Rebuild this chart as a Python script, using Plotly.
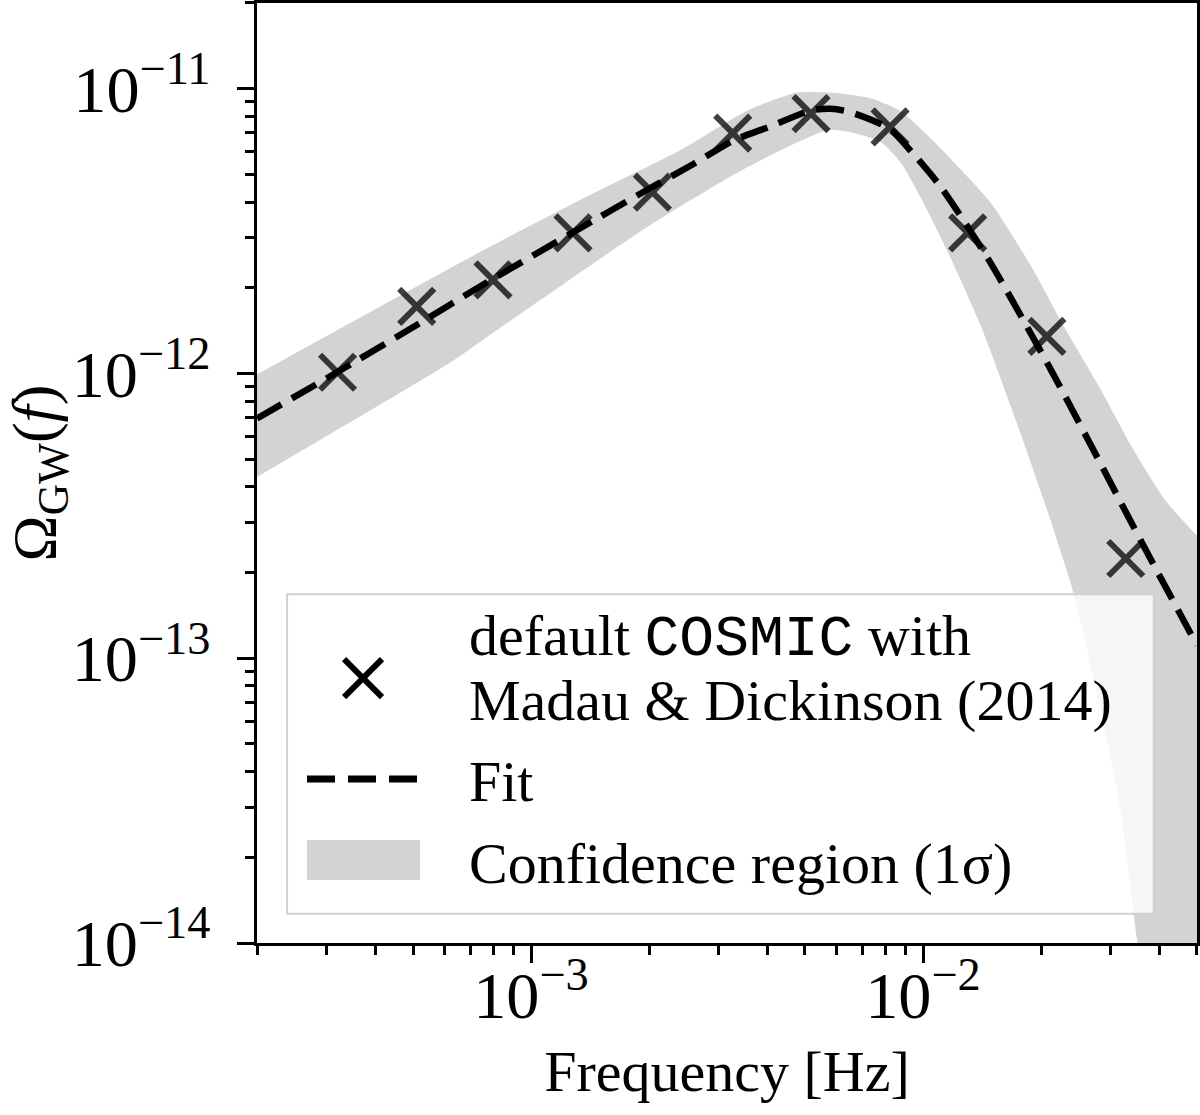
import plotly.graph_objects as go

# Simulated background (COSMIC + Madau & Dickinson 2014)
sim_freq = [3.21e-4, 5.11e-4, 8.0e-4, 1.28e-3, 2.04e-3, 3.27e-3, 5.18e-3, 8.24e-3, 1.30e-2, 2.07e-2, 3.29e-2]
sim_omega = [1.01e-12, 1.72e-12, 2.13e-12, 3.12e-12, 4.33e-12, 6.98e-12, 8.17e-12, 7.34e-12, 3.12e-12, 1.35e-12, 2.24e-13]

# Fit curve
fit_freq = [2.0e-4, 3.2e-4, 5.11e-4, 7.41e-4, 1.28e-3, 2.01e-3, 2.59e-3, 3.29e-3, 4.02e-3, 5.18e-3, 5.8e-3,
            6.43e-3, 8.18e-3, 9.42e-3, 1.11e-2, 1.47e-2, 2.12e-2, 2.69e-2, 3.61e-2, 5.0e-2]
fit_omega = [6.95e-13, 1.01e-12, 1.48e-12, 2.02e-12, 3.13e-12, 4.47e-12, 5.43e-12, 6.59e-12, 7.32e-12, 8.39e-12, 8.5e-12,
             8.32e-12, 7.26e-12, 5.93e-12, 4.52e-12, 2.51e-12, 1.03e-12, 5.55e-13, 2.56e-13, 1.11e-13]

# 1 sigma confidence region, upper and lower edges
band_up_freq = [2.0e-4, 7.41e-4, 1.33e-3, 2.40e-3, 3.57e-3, 4.79e-3, 6.17e-3, 7.36e-3, 8.79e-3, 1.05e-2,
                1.49e-2, 1.89e-2, 2.29e-2, 2.81e-2, 3.40e-2, 4.13e-2, 5.0e-2]
band_up = [9.93e-13, 2.67e-12, 4.06e-12, 6.08e-12, 8.39e-12, 9.70e-12, 9.63e-12, 9.25e-12, 8.32e-12, 6.66e-12,
           3.97e-12, 2.37e-12, 1.46e-12, 9.02e-13, 5.56e-13, 3.62e-13, 2.69e-13]
band_low_freq = [2.0e-4, 6.21e-4, 7.41e-4, 1.98e-3, 3.57e-3, 5.71e-3, 6.55e-3, 7.81e-3, 8.79e-3, 9.88e-3, 1.16e-2,
                 1.41e-2, 1.71e-2, 2.04e-2, 2.39e-2, 2.81e-2, 3.16e-2, 3.51e-2, 4.0e-2, 5.0e-2]
band_low = [4.33e-13, 1.09e-12, 1.29e-12, 3.27e-12, 5.31e-12, 7.14e-12, 7.03e-12, 6.48e-12, 5.48e-12, 4.13e-12, 2.65e-12,
            1.45e-12, 7.08e-13, 3.54e-13, 1.80e-13, 7.07e-14, 3.16e-14, 1.04e-14, 2.1e-15, 6.0e-17]

legend_labels = ["default <span style='font-family:Liberation Mono'>COSMIC</span> with",
                 "Madau & Dickinson (2014)",
                 "Fit",
                 "Confidence region (1σ)"]

FONT = "Liberation Serif"
FS = 58
TICK_FS = 53

fig = go.Figure()

# confidence band
fig.add_trace(go.Scatter(x=band_low_freq, y=band_low, mode="lines",
                         line=dict(width=0, shape="spline", smoothing=0.6, color="#d3d3d3"),
                         showlegend=False, hoverinfo="skip"))
fig.add_trace(go.Scatter(x=band_up_freq, y=band_up, mode="lines", fill="tonexty", fillcolor="#d3d3d3",
                         line=dict(width=0, shape="spline", smoothing=0.6, color="#d3d3d3"),
                         showlegend=False, hoverinfo="skip"))

# fit
fig.add_trace(go.Scatter(x=fit_freq, y=fit_omega, mode="lines",
                         line=dict(color="black", width=6.5, dash="28px,12px", shape="spline", smoothing=0.7),
                         showlegend=False))

# simulation points
fig.add_trace(go.Scatter(x=sim_freq, y=sim_omega, mode="markers",
                         marker=dict(symbol="x-thin", size=35, line=dict(width=6, color="rgba(0,0,0,0.75)")),
                         showlegend=False))

axis_style = dict(type="log", dtick=1, exponentformat="power", showexponent="all",
                  showline=True, linecolor="black", linewidth=3, mirror=True,
                  ticks="outside", ticklen=17, tickwidth=3, tickcolor="black",
                  minor=dict(ticks="outside", ticklen=9, tickwidth=2.5, tickcolor="black", dtick="D1"),
                  showgrid=False, zeroline=False, automargin=False,
                  tickfont=dict(family=FONT, size=TICK_FS, color="black"))

fig.update_xaxes(range=[-3.699, -1.301], ticklabelstandoff=-22,
                 title=dict(text="Frequency [Hz]", font=dict(family=FONT, size=FS, color="black"), standoff=20),
                 **axis_style)
fig.update_yaxes(range=[-14, -10.699], ticklabelstandoff=16,
                 title=dict(text="Ω<sub>GW</sub>(<i>f</i>)", font=dict(family=FONT, size=62, color="black"), standoff=33),
                 **axis_style)

# legend drawn by hand so the symbols keep the reference size
shapes = [
    dict(type="rect", xref="paper", yref="paper", x0=0.032, x1=0.954, y0=0.031, y1=0.371,
         fillcolor="rgba(255,255,255,0.8)", line=dict(color="#d0d0d0", width=2)),
    dict(type="line", xref="paper", yref="paper", x0=0.0926, x1=0.133, y0=0.302, y1=0.2617,
         line=dict(color="black", width=6)),
    dict(type="line", xref="paper", yref="paper", x0=0.0926, x1=0.133, y0=0.2617, y1=0.302,
         line=dict(color="black", width=6)),
    dict(type="line", xref="paper", yref="paper", x0=0.0532, x1=0.1734, y0=0.1745, y1=0.1745,
         line=dict(color="black", width=7, dash="28px,13px")),
    dict(type="rect", xref="paper", yref="paper", x0=0.0532, x1=0.1734, y0=0.067, y1=0.1096,
         fillcolor="#d3d3d3", line=dict(width=0)),
]
label_y = [0.3245, 0.2585, 0.1723, 0.0851]
annotations = [dict(text=t, xref="paper", yref="paper", x=0.2234, y=yy, xanchor="left", yanchor="middle",
                    showarrow=False, font=dict(family=FONT, size=FS, color="black"))
               for t, yy in zip(legend_labels, label_y)]

fig.update_layout(width=1200, height=1115, margin=dict(l=257, r=3, t=3, b=172, autoexpand=False),
                  plot_bgcolor="white", paper_bgcolor="white",
                  shapes=shapes, annotations=annotations, showlegend=False)

fig.write_html("out.html", config={"displayModeBar": False},
               post_script="document.body.style.margin = '0';")
